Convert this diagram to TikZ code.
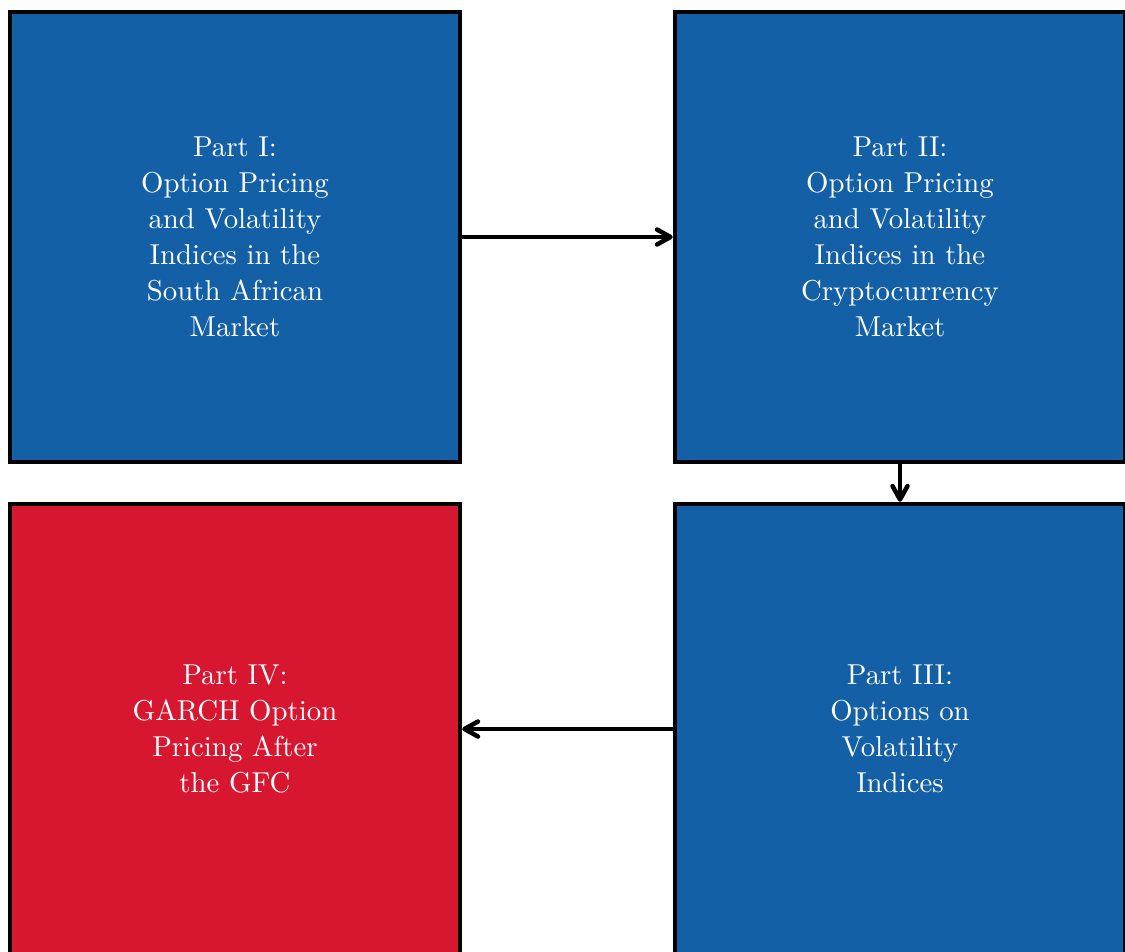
\documentclass[tikz,border=0pt]{standalone}
\usepackage{xcolor}
\usetikzlibrary{arrows.meta}
\definecolor{part-blue}{HTML}{1360A7}
\definecolor{part-red}{HTML}{D7162F}

\begin{document}
\begin{tikzpicture}[x=1pt, y=1pt,
        every node/.style={font=\fontsize{9.6}{12}\selectfont},
        partbox/.style={draw=black, line width=1.5pt, fill=part-blue,
            text=white, minimum width=150pt, minimum height=150pt,
            text width=70pt, align=flush center, inner sep=0pt},
        flow/.style={-{Straight Barb[round, length=4.5pt, width=5pt]}, line width=1.5pt}]
      \useasboundingbox (0,0) rectangle (375,-317);
      \node[partbox] (P1) at (78.33,-79)
            {Part I:\\Option Pricing and Volatility Indices in the South African Market};
      \node[partbox] (P2) at (300,-79)
            {Part II:\\Option Pricing and Volatility Indices in the Cryptocurrency Market};
      \node[partbox] (P3) at (300,-243)
            {Part III:\\Options on Volatility Indices};
      \node[partbox, fill=part-red] (P4) at (78.33,-243)
            {Part IV:\\GARCH Option Pricing After the GFC};
      \draw[flow] (P1.east) -- (P2.west);
      \draw[flow] (P2.south) -- (P3.north);
      \draw[flow] (P3.west) -- (P4.east);
    \end{tikzpicture}
\end{document}
